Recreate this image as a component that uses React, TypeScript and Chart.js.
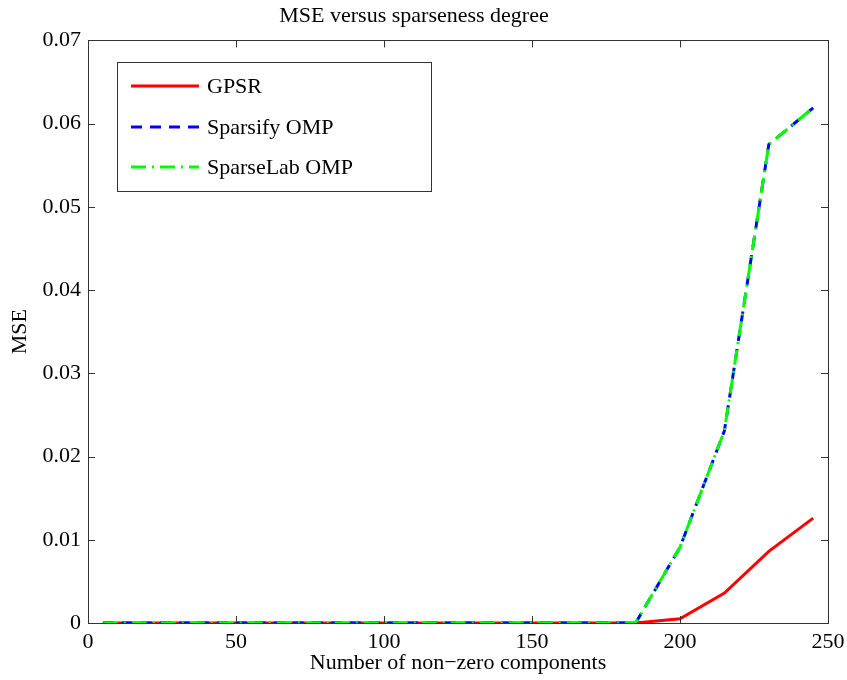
import React, { useEffect, useRef } from "react";
import { Chart, registerables } from "chart.js";

Chart.register(...registerables);

const titleText = "MSE versus sparseness degree";
const xTitle = "Number of non\u2212zero components";
const yTitle = "MSE";

const xValues = [5, 20, 35, 50, 65, 80, 95, 110, 125, 140, 155, 170, 185, 200, 215, 230, 245];
const gpsrValues = [0, 0, 0, 0, 0, 0, 0, 0, 0, 0, 0, 0, 0, 0.0005, 0.0036, 0.0086, 0.0126];
const sparsifyValues = [0, 0, 0, 0, 0, 0, 0, 0, 0, 0, 0, 0, 0, 0.0091, 0.0231, 0.0575, 0.0619];
const sparseLabValues = [0, 0, 0, 0, 0, 0, 0, 0, 0, 0, 0, 0, 0, 0.0091, 0.0231, 0.0575, 0.0619];

const seriesLabels = ["GPSR", "Sparsify OMP", "SparseLab OMP"];

const xMin = 0;
const xMax = 250;
const xStep = 50;
const yMin = 0;
const yMax = 0.07;
const yStep = 0.01;

const FONT = "'Liberation Serif', 'Times New Roman', serif";
const FS = 22;
const AXIS_COLOR = "#333333";

const boxTicksPlugin = {
  id: "boxTicks",
  afterDatasetsDraw(chart: any) {
    const { ctx, chartArea } = chart;
    const { left, right, top, bottom } = chartArea;
    const xs = chart.scales.x;
    const ys = chart.scales.y;
    const len = 7;
    ctx.save();
    ctx.strokeStyle = AXIS_COLOR;
    ctx.lineWidth = 1;
    ctx.beginPath();
    xs.ticks.forEach((t: any) => {
      const px = Math.round(xs.getPixelForValue(t.value)) + 0.5;
      ctx.moveTo(px, bottom);
      ctx.lineTo(px, bottom - len);
      ctx.moveTo(px, top);
      ctx.lineTo(px, top + len);
    });
    ys.ticks.forEach((t: any) => {
      const py = Math.round(ys.getPixelForValue(t.value)) + 0.5;
      ctx.moveTo(left, py);
      ctx.lineTo(left + len, py);
      ctx.moveTo(right, py);
      ctx.lineTo(right - len, py);
    });
    ctx.stroke();
    ctx.strokeRect(Math.round(left) + 0.5, Math.round(top) + 0.5, Math.round(right - left), Math.round(bottom - top));
    ctx.restore();
  },
  afterDraw(chart: any) {
    const { ctx, chartArea } = chart;
    const bx = chartArea.left + 29;
    const by = chartArea.top + 22;
    const bw = 314;
    const bh = 129;
    ctx.save();
    ctx.fillStyle = "#ffffff";
    ctx.fillRect(bx, by, bw, bh);
    ctx.strokeStyle = AXIS_COLOR;
    ctx.lineWidth = 1;
    ctx.strokeRect(Math.round(bx) + 0.5, Math.round(by) + 0.5, bw, bh);
    ctx.font = `${FS}px ${FONT}`;
    ctx.textBaseline = "middle";
    ctx.fillStyle = "#000000";
    const rows = [23.5, 64.5, 104.5];
    chart.data.datasets.forEach((ds: any, i: number) => {
      const y = by + rows[i];
      ctx.beginPath();
      ctx.strokeStyle = ds.borderColor;
      ctx.lineWidth = ds.borderWidth;
      ctx.lineCap = "butt";
      ctx.setLineDash(ds.borderDash || []);
      ctx.moveTo(bx + 14, y);
      ctx.lineTo(bx + 82, y);
      ctx.stroke();
      ctx.setLineDash([]);
      ctx.fillText(ds.label, bx + 90, y + 1);
    });
    ctx.restore();
  },
};

export default function App() {
  const canvasRef = useRef<HTMLCanvasElement | null>(null);

  useEffect(() => {
    const canvas = canvasRef.current;
    if (!canvas) return;
    const mk = (vals: number[]) => xValues.map((x, i) => ({ x, y: vals[i] }));
    const chart = new Chart(canvas, {
      type: "line",
      data: {
        datasets: [
          {
            label: seriesLabels[0],
            data: mk(gpsrValues),
            borderColor: "#ff0000",
            borderWidth: 3,
            pointRadius: 0,
            tension: 0,
            order: 3,
          },
          {
            label: seriesLabels[1],
            data: mk(sparsifyValues),
            borderColor: "#0000ff",
            borderWidth: 3,
            borderDash: [11, 8],
            pointRadius: 0,
            tension: 0,
            order: 2,
          },
          {
            label: seriesLabels[2],
            data: mk(sparseLabValues),
            borderColor: "#00ff00",
            borderWidth: 3,
            borderDash: [15, 6, 2, 6],
            pointRadius: 0,
            tension: 0,
            order: 1,
          },
        ],
      } as any,
      options: {
        responsive: false,
        animation: false,
        devicePixelRatio: 1,
        layout: { padding: { left: 0, right: 19, top: 0, bottom: 0 } },
        plugins: {
          legend: { display: false },
          tooltip: { enabled: false },
          title: {
            display: true,
            text: titleText,
            color: "#000000",
            font: { family: FONT, size: FS, weight: "normal" },
            padding: { top: 3, bottom: 11 },
          },
        },
        scales: {
          x: {
            type: "linear",
            min: xMin,
            max: xMax,
            grid: { display: true, drawOnChartArea: false, drawTicks: false },
            border: { display: true, color: AXIS_COLOR, width: 1 },
            ticks: {
              stepSize: xStep,
              color: "#000000",
              padding: 6,
              maxRotation: 0,
              font: { family: FONT, size: FS },
            },
            title: {
              display: true,
              text: xTitle,
              color: "#000000",
              font: { family: FONT, size: FS },
              padding: { top: 0, bottom: 4 },
            },
            afterFit(scale: any) {
              scale.height = 57;
              scale.paddingRight = 0;
              scale.paddingLeft = 0;
            },
          },
          y: {
            type: "linear",
            min: yMin,
            max: yMax,
            grid: { display: true, drawOnChartArea: false, drawTicks: false },
            border: { display: true, color: AXIS_COLOR, width: 1 },
            ticks: {
              stepSize: yStep,
              color: "#000000",
              padding: 7,
              font: { family: FONT, size: FS },
              callback: (v: any) => (Number(v) === 0 ? "0" : Number(v).toFixed(2)),
            },
            title: {
              display: true,
              text: yTitle,
              color: "#000000",
              font: { family: FONT, size: FS },
              padding: { top: 7, bottom: 0 },
            },
            afterFit(scale: any) {
              scale.width = 88;
            },
          },
        },
      } as any,
      plugins: [boxTicksPlugin],
    });
    return () => chart.destroy();
  }, []);

  return (
    <div style={{ position: "absolute", left: 0, top: 0, width: 847, height: 680, background: "#fff" }}>
      <canvas ref={canvasRef} width={847} height={680} style={{ display: "block" }} />
    </div>
  );
}
